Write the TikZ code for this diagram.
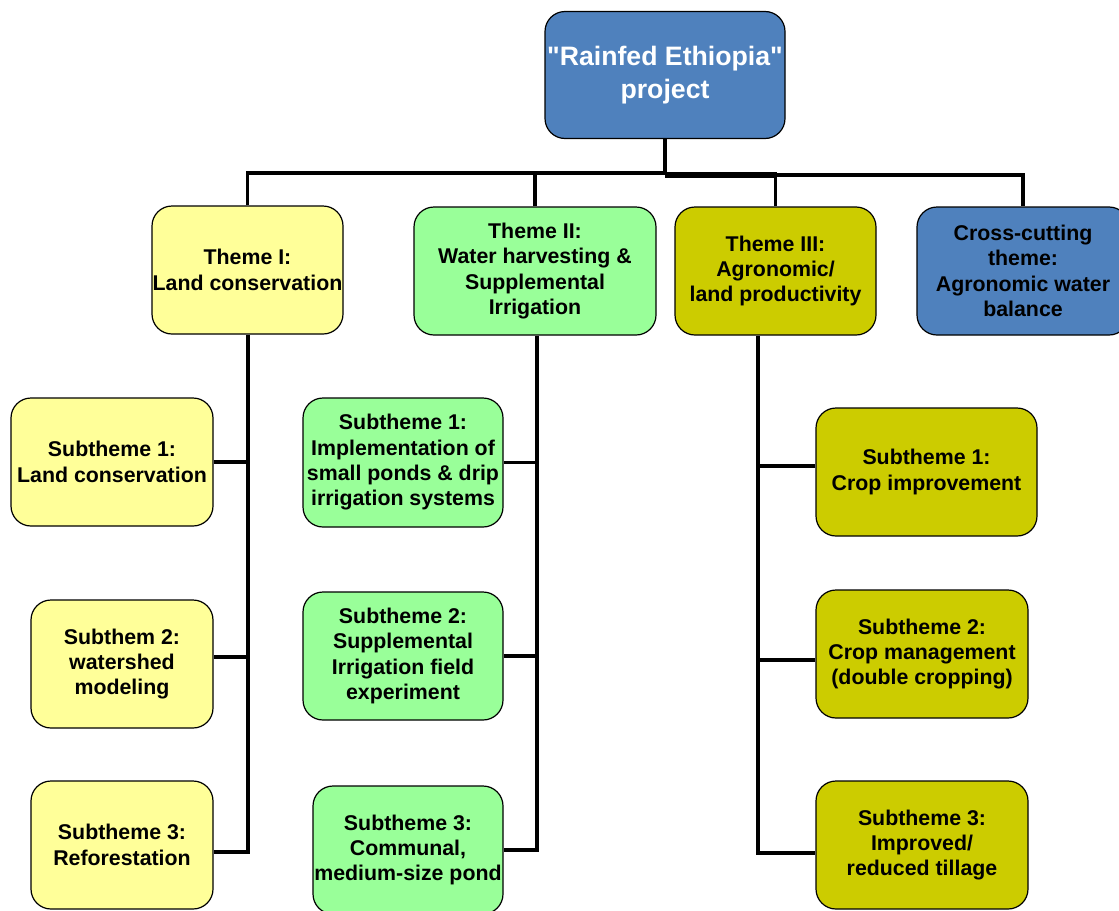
\documentclass[tikz,border=0pt]{standalone}
\usepackage{fontspec}
\setmainfont{Liberation Sans}[Ligatures=TeXOff]
\definecolor{lyellow}{HTML}{FFFF99}
\definecolor{lgreen}{HTML}{99FF99}
\definecolor{olive2}{HTML}{CCCC00}
\definecolor{bluebox}{HTML}{4F81BD}
\begin{document}
\begin{tikzpicture}[x=0.75pt,y=-0.75pt,
  box/.style={draw=black, line width=0.9pt, rounded corners=15pt, align=center,
    inner sep=0pt, font=\fontsize{16}{19}\selectfont\bfseries},
  conn/.style={draw=black, line width=3pt},
  branch/.style={draw=black, line width=2.6pt}]
\useasboundingbox (0,0) rectangle (1119,910);
\begin{scope}
\clip (0,0) rectangle (1119,910);
% root
\node[box, fill=bluebox, text=white, minimum width=180pt, minimum height=95.25pt,
  font=\fontsize{20}{25}\selectfont\bfseries] (root) at (665,75) {"Rainfed Ethiopia"\\project};
% themes
\node[box, fill=lyellow, minimum width=143.25pt, minimum height=96pt] (t1) at (247.5,270) {Theme I:\\Land conservation};
\node[box, fill=lgreen, minimum width=181.5pt, minimum height=96pt] (t2) at (535,271) {Theme II:\\Water harvesting \&\\Supplemental\\Irrigation};
\node[box, fill=olive2, minimum width=150.75pt, minimum height=96pt] (t3) at (775.5,271) {Theme III:\\Agronomic/\\land productivity};
\node[box, fill=bluebox, minimum width=159pt, minimum height=96pt] (t4) at (1023,271) {Cross-cutting\\theme:\\Agronomic water\\balance};
% left subthemes
\node[box, fill=lyellow, minimum width=151.5pt, minimum height=96pt] (a1) at (112,462) {Subtheme 1:\\Land conservation};
\node[box, fill=lyellow, minimum width=136.5pt, minimum height=96pt] (a2) at (122,664) {Subthem 2:\\watershed\\modeling};
\node[box, fill=lyellow, minimum width=136.5pt, minimum height=96pt] (a3) at (122,845) {Subtheme 3:\\Reforestation};
% middle subthemes
\node[box, fill=lgreen, minimum width=150pt, minimum height=96.75pt] (b1) at (403,462.5) {Subtheme 1:\\Implementation of\\small ponds \& drip\\irrigation systems};
\node[box, fill=lgreen, minimum width=150pt, minimum height=96pt] (b2) at (403,656) {Subtheme 2:\\Supplemental\\Irrigation field\\experiment};
\node[box, fill=lgreen, minimum width=142.5pt, minimum height=96pt] (b3) at (408,850) {Subtheme 3:\\Communal,\\medium-size pond};
% right subthemes
\node[box, fill=olive2, minimum width=165.75pt, minimum height=96pt] (c1) at (926.5,472) {Subtheme 1:\\Crop improvement};
\node[box, fill=olive2, minimum width=159pt, minimum height=96pt] (c2) at (922,654) {Subtheme 2:\\Crop management\\(double cropping)};
\node[box, fill=olive2, minimum width=159pt, minimum height=96pt] (c3) at (922,845) {Subtheme 3:\\Improved/\\reduced tillage};
\end{scope}
% top connectors
\coordinate (jl) at (665,173);
\coordinate (jr) at (665,175);
\draw[conn] (root.south) -- (jl);
\draw[branch] (t1.north) |- (jl);
\draw[branch] (t2.north) -- (t2.north |- jl);
\draw[draw=black, line width=5pt] (jr) -- (777,175);
\draw[branch] (t3.north) |- (jr);
\draw[branch] (t4.north) |- (jr);
% left trunk
\coordinate (la3) at ([yshift=-5.25pt]a3.east);
\draw[conn] (t1.south) |- (la3);
\draw[branch] (a1.east) -- (a1.east -| t1.south);
\coordinate (la2) at ([yshift=5.25pt]a2.east);
\draw[branch] (la2) -- (la2 -| t1.south);
% middle trunk
\coordinate (mt) at ([xshift=1.5pt]t2.south);
\draw[conn] (mt) |- (b3.east);
\draw[branch] (b1.east) -- (b1.east -| mt);
\draw[branch] (b2.east) -- (b2.east -| mt);
% right trunk
\coordinate (rt) at ([xshift=-13.5pt]t3.south);
\coordinate (rc3) at ([yshift=-6pt]c3.west);
\draw[conn] (rt) |- (rc3);
\coordinate (rc1) at ([yshift=4.5pt]c1.west);
\draw[branch] (rc1) -- (rc1 -| rt);
\coordinate (rc2) at ([yshift=-4.5pt]c2.west);
\draw[branch] (rc2) -- (rc2 -| rt);
\end{tikzpicture}
\end{document}
